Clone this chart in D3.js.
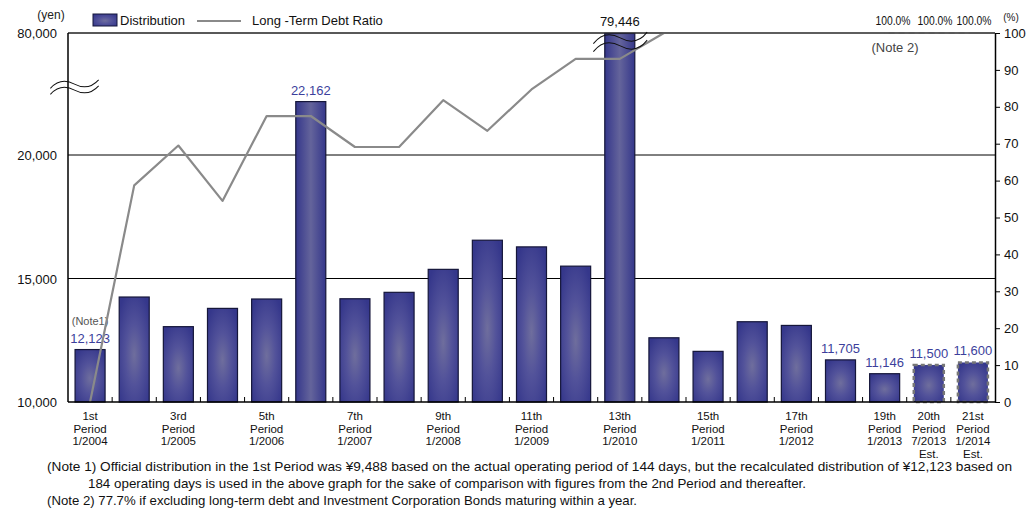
<!DOCTYPE html>
<html><head><meta charset="utf-8">
<script src="https://cdn.jsdelivr.net/npm/d3@7/dist/d3.min.js"></script>
<style>
html,body{margin:0;padding:0;background:#fff;}
svg{display:block;font-family:"Liberation Sans",Arial,sans-serif;}
</style></head>
<body>
<svg id="chart" width="1035" height="508"></svg>
<script>
const categories = ["1st","2nd","3rd","4th","5th","6th","7th","8th","9th","10th","11th","12th","13th","14th","15th","16th","17th","18th","19th","20th","21st"];
const periodDates = ["1/2004","7/2004","1/2005","7/2005","1/2006","7/2006","1/2007","7/2007","1/2008","7/2008","1/2009","7/2009","1/2010","7/2010","1/2011","7/2011","1/2012","7/2012","1/2013","7/2013","1/2014"];
const shownLabels = ["1st","3rd","5th","7th","9th","11th","13th","15th","17th","19th","20th","21st"];
const distribution = [12123,14250,13050,13790,14170,22162,14180,14440,15370,16550,16280,15500,79446,12600,12050,13250,13100,11705,11146,11500,11600];
const estimated = ["20th","21st"];
const debtRatio = [0,58.7,69.5,54.5,77.5,77.5,69.1,69.1,81.8,73.5,84.7,93.0,93.0,100,100,100,100,100,100,100,100];
const labeledBars = ["1st","6th","13th","18th","19th","20th","21st"];
const leftTicks = [10000,15000,20000,80000];
const rightTicks = [0,10,20,30,40,50,60,70,80,90,100];
const ratioLabels = ["19th","20th","21st"];

const svg = d3.select("#chart");
const L = 68, R = 995, T = 33, B = 402;
const fmt = d3.format(",");

const x = d3.scaleBand().domain(categories).range([L, R]).paddingInner(0.32).paddingOuter(0.16);
const y = d3.scaleLinear().domain([10000, 23000, 80000]).range([B, B - 13000 * 0.0247, T]);
const y2 = d3.scaleLinear().domain([0, 100]).range([B, T]);

const defs = svg.append("defs");
const g = defs.append("radialGradient").attr("id","barGrad").attr("cx","50%").attr("cy","55%").attr("r","65%");
g.append("stop").attr("offset","0%").attr("stop-color","#6f6e9d");
g.append("stop").attr("offset","45%").attr("stop-color","#52529a");
g.append("stop").attr("offset","100%").attr("stop-color","#35378b");
const gl = defs.append("linearGradient").attr("id","barGradH").attr("x1","0").attr("x2","1").attr("y1","0").attr("y2","0");
gl.append("stop").attr("offset","0%").attr("stop-color","#35378b");
gl.append("stop").attr("offset","50%").attr("stop-color","#64649b");
gl.append("stop").attr("offset","100%").attr("stop-color","#35378b");

// gridlines
svg.append("g").selectAll("line").data(leftTicks.slice(1)).join("line")
  .attr("x1", L).attr("x2", R).attr("y1", d => y(d)).attr("y2", d => y(d))
  .attr("stroke", "#000").attr("stroke-width", 1);

// bars
const bars = svg.append("g");
categories.forEach((c, i) => {
  const v = distribution[i];
  const est = estimated.includes(c);
  const tall = v > 20000;
  bars.append("rect")
    .attr("x", x(c)).attr("y", y(v)).attr("width", x.bandwidth()).attr("height", B - y(v))
    .attr("fill", tall ? "url(#barGradH)" : "url(#barGrad)")
    .attr("stroke", est ? "#777" : "#15163a")
    .attr("stroke-width", est ? 2.5 : 1.2)
    .attr("stroke-dasharray", est ? "4,3" : null);
});

// value labels
const lab = svg.append("g").attr("font-size", 13).attr("text-anchor", "middle");
labeledBars.forEach(c => {
  const i = categories.indexOf(c);
  const v = distribution[i];
  lab.append("text").attr("x", x(c) + x.bandwidth()/2).attr("y", Math.max(y(v), T + 0) - 7)
    .attr("fill", c === "13th" ? "#111" : "#3c3f9c").text(fmt(v));
});
svg.append("text").attr("x", x("1st") + x.bandwidth()/2).attr("y", 325).attr("text-anchor","middle")
  .attr("font-size", 11).attr("fill", "#555").text("(Note1)");

// line
const pts = categories.map((c, i) => [x(c) + x.bandwidth()/2, y2(debtRatio[i])]);
const line = d3.line();
const solidEnd = categories.indexOf("19th");
svg.append("path").attr("d", line(pts.slice(0, solidEnd + 1))).attr("fill","none")
  .attr("stroke","#8a8a8a").attr("stroke-width", 2.2).attr("stroke-linejoin","round");
svg.append("path").attr("d", line(pts.slice(solidEnd))).attr("fill","none")
  .attr("stroke","#8a8a8a").attr("stroke-width", 2.2).attr("stroke-dasharray","4,6");

// top border line
svg.append("line").attr("x1", L).attr("x2", R).attr("y1", T).attr("y2", T).attr("stroke","#333").attr("stroke-width",1);

// left axis
svg.append("line").attr("x1", L).attr("x2", L).attr("y1", T).attr("y2", B).attr("stroke","#000").attr("stroke-width",1.5);
svg.append("g").attr("font-size", 13).attr("text-anchor","end").attr("fill","#111")
  .selectAll("text").data(leftTicks).join("text")
  .attr("x", 57).attr("y", d => y(d) + 5).text(d => fmt(d));
svg.append("text").attr("x", 51).attr("y", 19).attr("text-anchor","middle").attr("font-size",12).attr("fill","#222").text("(yen)");

// right axis
const ra = svg.append("g").attr("transform", `translate(${R},0)`)
  .call(d3.axisRight(y2).tickValues(rightTicks).tickSize(5).tickSizeOuter(0).tickPadding(4));
ra.select(".domain").attr("stroke","#000").attr("stroke-width",1.5);
ra.selectAll("text").attr("font-size", 13).attr("font-family","Liberation Sans, Arial, sans-serif").attr("fill","#111");
svg.append("text").attr("x", 1011).attr("y", 21).attr("text-anchor","middle").attr("font-size",10).attr("fill","#222").text("(%)");

// bottom axis
svg.append("line").attr("x1", L).attr("x2", R).attr("y1", B).attr("y2", B).attr("stroke","#000").attr("stroke-width",1.5);
svg.append("g").selectAll("line").data(categories.slice(1)).join("line")
  .attr("x1", d => x(d) - x.step()*x.paddingInner()/2).attr("x2", d => x(d) - x.step()*x.paddingInner()/2)
  .attr("y1", B).attr("y2", B - 5).attr("stroke","#000").attr("stroke-width",1);

const xl = svg.append("g").attr("font-size", 11.5).attr("text-anchor","middle").attr("fill","#111");
shownLabels.forEach(c => {
  const i = categories.indexOf(c);
  const cx = x(c) + x.bandwidth()/2;
  const lines = [c, "Period", periodDates[i]];
  if (estimated.includes(c)) lines.push("Est.");
  lines.forEach((t, k) => xl.append("text").attr("x", cx).attr("y", 420 + k * 12.5).text(t));
});

// ratio labels
ratioLabels.forEach((c, k) => {
  const cxs = [893, 935, 974];
  svg.append("text").attr("x", cxs[k]).attr("y", 25).attr("text-anchor","middle").attr("font-size",12)
    .attr("textLength", 35).attr("lengthAdjust","spacingAndGlyphs").attr("fill","#111")
    .text(debtRatio[categories.indexOf(c)].toFixed(1) + "%");
});
svg.append("text").attr("x", 895).attr("y", 52).attr("text-anchor","middle").attr("font-size",13).attr("fill","#444").text("(Note 2)");

// break markers
function wave(x0, y0, w, a) {
  const p = d3.path();
  p.moveTo(x0, y0);
  p.bezierCurveTo(x0 + w*0.17, y0 - a*1.6, x0 + w*0.33, y0 - a*1.6, x0 + w*0.5, y0);
  p.bezierCurveTo(x0 + w*0.67, y0 + a*1.6, x0 + w*0.83, y0 + a*1.6, x0 + w, y0);
  return p.toString();
}
const brk = svg.append("g").attr("fill","none").attr("stroke","#111").attr("stroke-width",1);
brk.append("path").attr("d", wave(50, 84, 49, 4)).attr("transform","rotate(-10,75,84)");
brk.append("path").attr("d", wave(50, 90, 49, 4)).attr("transform","rotate(-10,75,90)");
const bx = x("13th");
brk.append("path").attr("d", wave(bx - 12, 38, 55, 5)).attr("transform",`rotate(-12,${bx+15},38)`);
brk.append("path").attr("d", wave(bx - 12, 46, 55, 5)).attr("transform",`rotate(-12,${bx+15},46)`);

// legend
svg.append("rect").attr("x", 93).attr("y", 14).attr("width", 24).attr("height", 12)
  .attr("fill","url(#barGrad)").attr("stroke","#15163a").attr("stroke-width",1);
svg.append("text").attr("x", 120).attr("y", 25).attr("font-size",13).attr("fill","#111").text("Distribution");
svg.append("line").attr("x1",197).attr("x2",241).attr("y1",21).attr("y2",21).attr("stroke","#8a8a8a").attr("stroke-width",2);
svg.append("text").attr("x", 252).attr("y", 25).attr("font-size",13).attr("fill","#111").text("Long -Term Debt Ratio");

// notes
const notes = [
  {x: 47, y: 471, w: 965, t: "(Note 1) Official distribution in the 1st Period was ¥9,488 based on the actual operating period of 144 days, but the recalculated distribution of  ¥12,123 based on"},
  {x: 88, y: 488, w: 718, t: "184 operating days is used in the above graph for the sake of comparison with figures from the 2nd Period and thereafter."},
  {x: 47, y: 505, w: 590, t: "(Note 2) 77.7% if excluding long-term debt and Investment Corporation Bonds maturing within a year."}
];
svg.append("g").selectAll("text").data(notes).join("text")
  .attr("x", d => d.x).attr("y", d => d.y).attr("font-size", 13).attr("fill","#111")
  .attr("font-family","Liberation Sans Narrow, Arial Narrow, Liberation Sans, sans-serif")
  .attr("textLength", d => d.w).attr("lengthAdjust","spacingAndGlyphs").text(d => d.t);
</script>
</body></html>
